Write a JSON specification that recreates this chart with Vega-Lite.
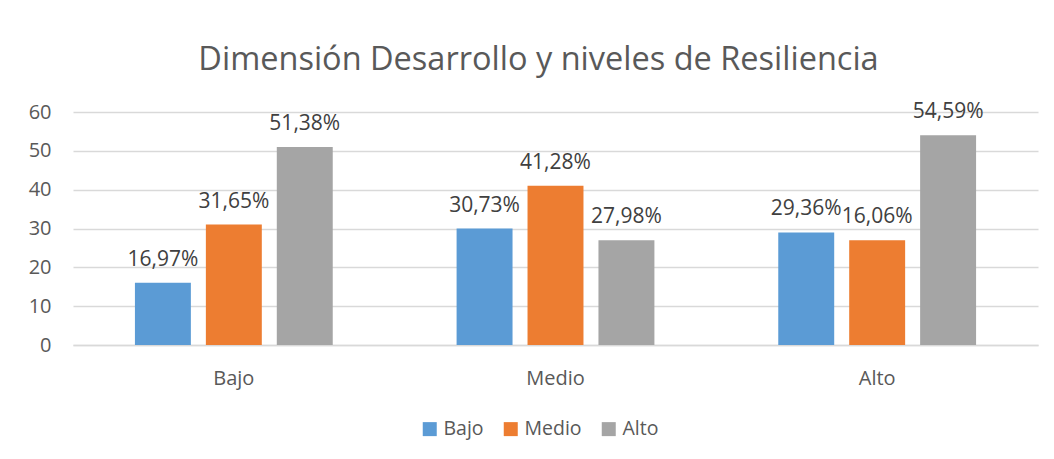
{
  "$schema": "https://vega.github.io/schema/vega-lite/v6.json",
  "width": 965,
  "height": 233,
  "autosize": "none",
  "padding": {"left": 73, "top": 112, "right": 16, "bottom": 114},
  "background": "white",
  "title": {
    "text": "Dimensión Desarrollo y niveles de Resiliencia",
    "font": "Open Sans",
    "fontSize": 32.5,
    "fontWeight": "normal",
    "color": "#595959",
    "anchor": "middle",
    "frame": "group",
    "dx": -17,
    "offset": 25
  },
  "data": {
    "values": [
      {"nivel": "Bajo", "serie": "Bajo", "valor": 16, "etiqueta": "16,97%"},
      {"nivel": "Bajo", "serie": "Medio", "valor": 31, "etiqueta": "31,65%"},
      {"nivel": "Bajo", "serie": "Alto", "valor": 51, "etiqueta": "51,38%"},
      {"nivel": "Medio", "serie": "Bajo", "valor": 30, "etiqueta": "30,73%"},
      {"nivel": "Medio", "serie": "Medio", "valor": 41, "etiqueta": "41,28%"},
      {"nivel": "Medio", "serie": "Alto", "valor": 27, "etiqueta": "27,98%"},
      {"nivel": "Alto", "serie": "Bajo", "valor": 29, "etiqueta": "29,36%"},
      {"nivel": "Alto", "serie": "Medio", "valor": 27, "etiqueta": "16,06%"},
      {"nivel": "Alto", "serie": "Alto", "valor": 54, "etiqueta": "54,59%"}
    ]
  },
  "encoding": {
    "x": {
      "field": "nivel",
      "type": "nominal",
      "sort": ["Bajo", "Medio", "Alto"],
      "scale": {"paddingInner": 0, "paddingOuter": 0},
      "axis": {
        "title": null,
        "labelAngle": 0,
        "labelFont": "Open Sans",
        "labelFontSize": 20,
        "labelColor": "#595959",
        "labelPadding": 23,
        "ticks": false,
        "domain": true,
        "domainColor": "#D9D9D9",
        "domainWidth": 1.5
      }
    },
    "xOffset": {
      "field": "serie",
      "type": "nominal",
      "sort": ["Bajo", "Medio", "Alto"],
      "scale": {"paddingInner": 0.2113, "paddingOuter": 0.873}
    },
    "y": {
      "field": "valor",
      "type": "quantitative",
      "scale": {"domain": [0, 60], "nice": false},
      "axis": {
        "title": null,
        "values": [0, 10, 20, 30, 40, 50, 60],
        "labelFont": "Open Sans",
        "labelFontSize": 20,
        "labelColor": "#595959",
        "labelPadding": 22,
        "ticks": false,
        "domain": false,
        "grid": true,
        "gridColor": "#D9D9D9",
        "gridWidth": 1.5
      }
    }
  },
  "layer": [
    {
      "mark": {"type": "bar"},
      "encoding": {
        "color": {
          "field": "serie",
          "type": "nominal",
          "sort": ["Bajo", "Medio", "Alto"],
          "scale": {"domain": ["Bajo", "Medio", "Alto"], "range": ["#5B9BD5", "#ED7D31", "#A5A5A5"]},
          "legend": {
            "title": null,
            "orient": "none",
            "direction": "horizontal",
            "legendX": 347,
            "legendY": 307,
            "symbolType": "square",
            "symbolSize": 196,
            "symbolStrokeWidth": 0,
            "symbolOpacity": 1,
            "labelFont": "Open Sans",
            "labelFontSize": 19.5,
            "labelColor": "#595959",
            "labelOffset": 4,
            "columnPadding": 17
          }
        }
      }
    },
    {
      "mark": {
        "type": "text",
        "baseline": "alphabetic",
        "dy": -17,
        "font": "Open Sans",
        "fontSize": 21,
        "color": "#404040"
      },
      "encoding": {
        "text": {"field": "etiqueta", "type": "nominal"}
      }
    }
  ],
  "config": {
    "view": {"stroke": null}
  }
}
